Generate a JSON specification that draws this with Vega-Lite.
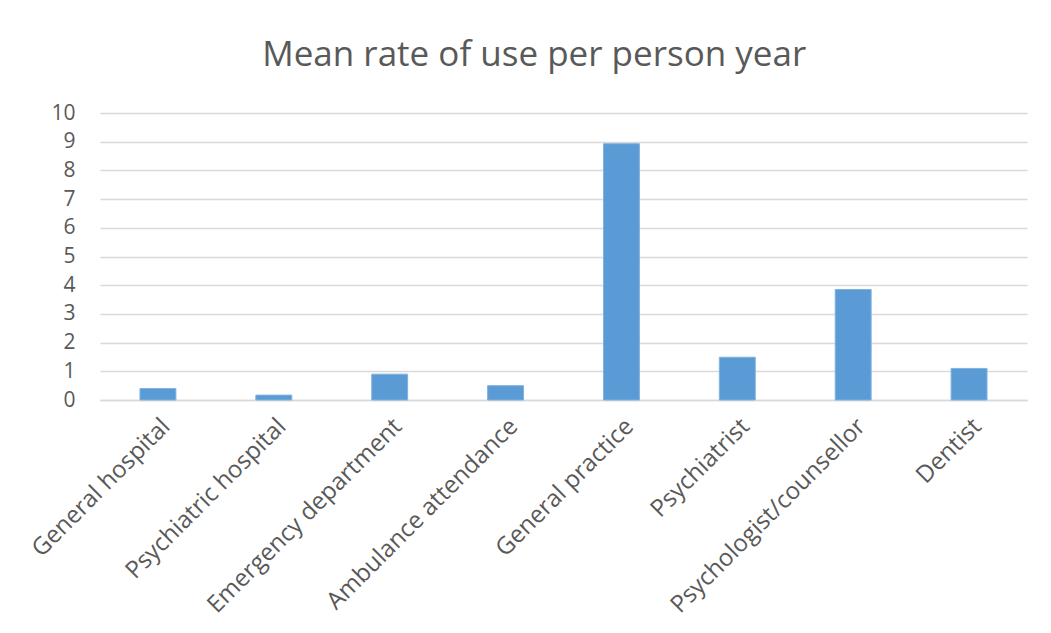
{
  "$schema": "https://vega.github.io/schema/vega-lite/v6.json",
  "width": 927,
  "height": 287,
  "autosize": {"type": "none"},
  "padding": {"left": 100, "top": 113, "right": 24, "bottom": 233},
  "background": "white",
  "title": {
    "text": "Mean rate of use per person year",
    "font": "Open Sans",
    "fontSize": 35,
    "fontWeight": "normal",
    "color": "#595959",
    "anchor": "middle",
    "frame": "bounds",
    "dx": 7,
    "offset": 29
  },
  "data": {
    "values": [
      {"service": "General hospital", "rate": 0.4},
      {"service": "Psychiatric hospital", "rate": 0.17},
      {"service": "Emergency department", "rate": 0.9},
      {"service": "Ambulance attendance", "rate": 0.5},
      {"service": "General practice", "rate": 8.93},
      {"service": "Psychiatrist", "rate": 1.49},
      {"service": "Psychologist/counsellor", "rate": 3.85},
      {"service": "Dentist", "rate": 1.1}
    ]
  },
  "mark": {"type": "bar", "color": "#5B9BD5", "stroke": "#7FB2E0", "strokeWidth": 1},
  "encoding": {
    "x": {
      "field": "service",
      "type": "nominal",
      "sort": null,
      "scale": {"paddingInner": 0.69, "paddingOuter": 0.345},
      "axis": {
        "title": null,
        "labelAngle": -45,
        "labelFont": "Open Sans",
        "labelFontSize": 24,
        "labelColor": "#595959",
        "labelPadding": 14,
        "labelOffset": 0,
        "labelLimit": 0,
        "ticks": false,
        "domain": true,
        "domainColor": "#D9D9D9",
        "domainWidth": 1.5
      }
    },
    "y": {
      "field": "rate",
      "type": "quantitative",
      "scale": {"domain": [0, 10], "nice": false},
      "axis": {
        "title": null,
        "values": [0, 1, 2, 3, 4, 5, 6, 7, 8, 9, 10],
        "labelFont": "Open Sans",
        "labelFontSize": 21,
        "labelColor": "#595959",
        "labelPadding": 25,
        "ticks": false,
        "domain": false,
        "grid": true,
        "gridColor": "#D9D9D9",
        "gridWidth": 1.5
      }
    }
  },
  "config": {
    "view": {"stroke": null}
  }
}
